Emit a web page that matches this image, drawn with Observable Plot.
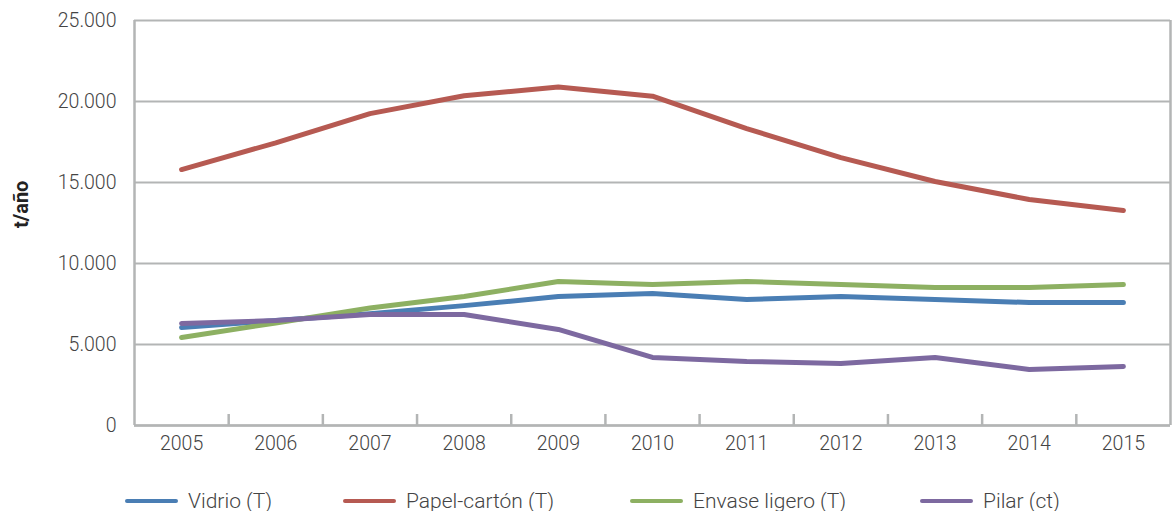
<!DOCTYPE html>
<html>
<head>
<meta charset="utf-8">
<script src="https://cdn.jsdelivr.net/npm/d3@7"></script>
<script src="https://cdn.jsdelivr.net/npm/@observablehq/plot@0.6"></script>
<style>
  body { margin: 0; background: #fff; font-family: Roboto, "Noto Sans", sans-serif; }
  #legend { display: flex; padding-left: 125px; padding-top: 31px; font-size: 21px; line-height: 20px; color: #444; font-weight: 300; }
  .item { display: flex; align-items: center; }
  .sw { width: 53px; height: 4px; border-radius: 2px; margin-right: 10px; flex: none; }
</style>
</head>
<body>
<div id="chart"></div>
<div id="legend"></div>
<script>
const years = [2005, 2006, 2007, 2008, 2009, 2010, 2011, 2012, 2013, 2014, 2015];
const seriesNames = ["Vidrio (T)", "Papel-cartón (T)", "Envase ligero (T)", "Pilar (ct)"];
const seriesColors = ["#4a7eb4", "#b65a52", "#8db062", "#7d69a0"];
const vidrio = [6050, 6480, 6900, 7400, 7960, 8150, 7780, 7960, 7780, 7590, 7590];
const papel = [15800, 17450, 19250, 20350, 20900, 20330, 18330, 16540, 15060, 13950, 13270];
const envase = [5430, 6330, 7250, 7960, 8890, 8700, 8890, 8700, 8520, 8520, 8700];
const pilar = [6300, 6480, 6850, 6850, 5930, 4200, 3950, 3830, 4200, 3460, 3640];
const yTicks = [0, 5000, 10000, 15000, 20000, 25000];
const yLabel = "t/año";

const allSeries = [vidrio, papel, envase, pilar];
const rows = [];
allSeries.forEach((vals, s) => vals.forEach((v, i) => rows.push({series: seriesNames[s], year: years[i], value: v})));
const boundaries = years.slice(1).map(y => y - 0.5);
const fmt = d3.formatLocale({thousands: ".", decimal: ",", grouping: [3], currency: ["", ""]}).format(",");
const gridColor = "#b3b5b5";
const tickLen = 25000 * 11 / 405;
const legendItemWidths = [218, 287, 290, null];

const chart = Plot.plot({
  width: 1172,
  height: 460,
  marginTop: 20,
  marginBottom: 35,
  marginLeft: 134,
  marginRight: 2,
  style: {fontFamily: "Roboto, 'Noto Sans', sans-serif", fontSize: "19.5px", color: "#444", fontWeight: 300},
  x: {domain: [years[0] - 0.5, years[years.length - 1] + 0.5]},
  y: {domain: [0, 25000]},
  color: {domain: seriesNames, range: seriesColors},
  marks: [
    Plot.gridY(yTicks, {stroke: gridColor, strokeOpacity: 1, strokeWidth: 2}),
    Plot.ruleX([years[0] - 0.5, years[years.length - 1] + 0.5], {stroke: gridColor, strokeWidth: 2.5}),
    Plot.ruleY([0], {stroke: gridColor, strokeWidth: 2.5}),
    Plot.ruleX(boundaries, {y1: 0, y2: tickLen, stroke: gridColor, strokeWidth: 2.5}),
    Plot.axisY(yTicks, {tickSize: 0, tickPadding: 18, tickFormat: fmt, label: null, fontSize: 19.5}),
    Plot.axisX(years, {tickSize: 0, tickPadding: 11, tickFormat: d => String(d), label: null, fontSize: 19.5}),
    Plot.text([yLabel], {frameAnchor: "left", rotate: -90, dx: -113, dy: 5, fontWeight: "bold", fontSize: 20, fill: "#222"}),
    Plot.line(rows, {x: "year", y: "value", z: "series", stroke: "series", strokeWidth: 5, strokeLinecap: "round", strokeLinejoin: "round"})
  ]
});
document.getElementById("chart").append(chart);

const legend = document.getElementById("legend");
seriesNames.forEach((n, i) => {
  const it = document.createElement("div");
  it.className = "item";
  if (legendItemWidths[i]) it.style.width = legendItemWidths[i] + "px";
  const sw = document.createElement("div");
  sw.className = "sw";
  sw.style.background = seriesColors[i];
  const t = document.createElement("span");
  t.textContent = n;
  it.append(sw, t);
  legend.append(it);
});
</script>
</body>
</html>
